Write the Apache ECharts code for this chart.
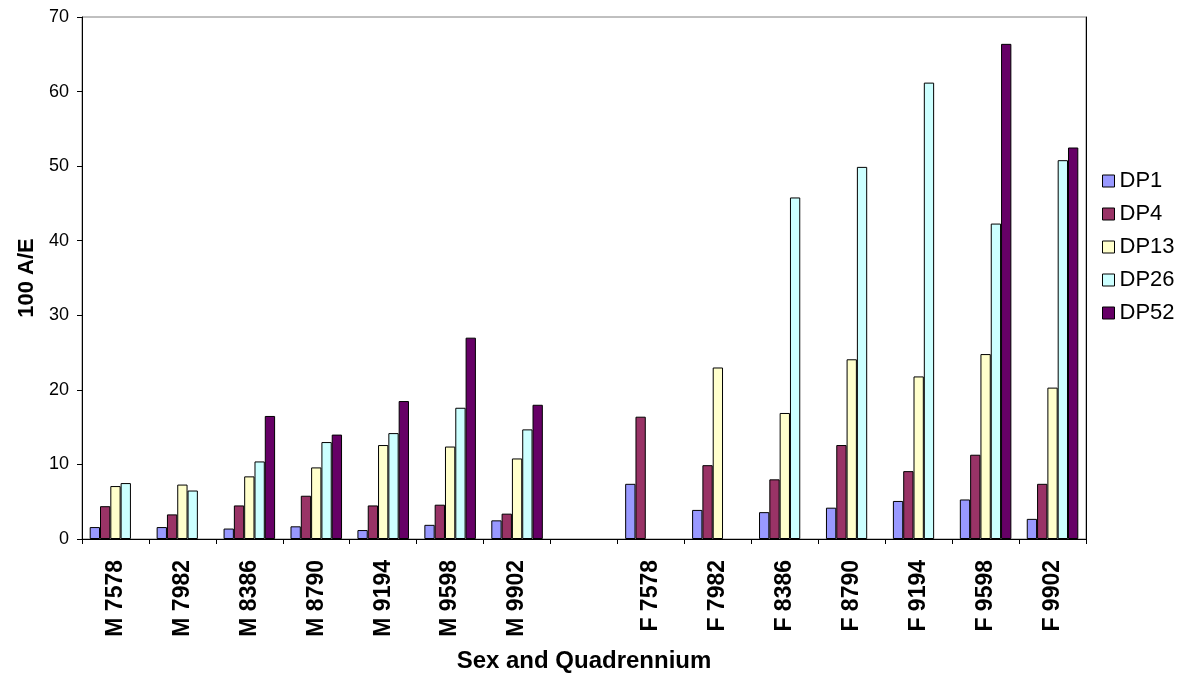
<!DOCTYPE html>
<html>
<head>
<meta charset="utf-8">
<title>100 A/E by Sex and Quadrennium</title>
<script src="https://cdn.jsdelivr.net/npm/echarts@6/dist/echarts.min.js"></script>
<style>
  html, body { margin: 0; padding: 0; background: #ffffff; }
  #chart { width: 1185px; height: 679px; }
</style>
</head>
<body>
<div id="chart"></div>
<script>
// Quadrennium groups: males, an empty spacer slot, then females
const categories = ['M 7578', 'M 7982', 'M 8386', 'M 8790', 'M 9194', 'M 9598', 'M 9902', '',
                    'F 7578', 'F 7982', 'F 8386', 'F 8790', 'F 9194', 'F 9598', 'F 9902'];

const dp1  = [1.6, 1.6, 1.4, 1.7, 1.2, 1.9, 2.5, null, 7.4, 3.9, 3.6, 4.2, 5.1, 5.3, 2.7];
const dp4  = [4.4, 3.3, 4.5, 5.8, 4.5, 4.6, 3.4, null, 16.4, 9.9, 8.0, 12.6, 9.1, 11.3, 7.4];
const dp13 = [7.1, 7.3, 8.4, 9.6, 12.6, 12.4, 10.8, null, null, 23.0, 16.9, 24.1, 21.8, 24.8, 20.3];
const dp26 = [7.5, 6.5, 10.4, 13.0, 14.2, 17.6, 14.7, null, null, null, 45.8, 49.9, 61.2, 42.3, 50.8];
const dp52 = [null, null, 16.5, 14.0, 18.5, 27.0, 18.0, null, null, null, null, null, null, 66.4, 52.5];

const seriesNames = ['DP1', 'DP4', 'DP13', 'DP26', 'DP52'];
const seriesData = [dp1, dp4, dp13, dp26, dp52];
const seriesColors = ['#9999FF', '#993366', '#FFFFCC', '#CCFFFF', '#660066'];

const yMin = 0, yMax = 70, yStep = 10;

const FONT = '"Liberation Sans", Arial, sans-serif';

const chart = echarts.init(document.getElementById('chart'), null, { renderer: 'canvas' });

chart.setOption({
  animation: false,
  backgroundColor: '#ffffff',
  textStyle: { fontFamily: FONT, color: '#000' },
  grid: {
    left: 82, right: 99, top: 17, bottom: 140,
    show: true, borderColor: '#808080', borderWidth: 1, backgroundColor: '#ffffff'
  },
  legend: {
    orient: 'vertical',
    left: 1097, top: 165,
    itemWidth: 12, itemHeight: 12, itemGap: 11,
    icon: 'rect',
    textStyle: { fontFamily: FONT, fontSize: 22, color: '#000', padding: [0, 0, 0, 0] },
    itemStyle: { borderColor: '#000', borderWidth: 1 },
    data: seriesNames
  },
  xAxis: {
    type: 'category',
    data: categories,
    boundaryGap: true,
    axisLine: { lineStyle: { color: '#000', width: 1 } },
    axisTick: { show: true, length: 5, alignWithLabel: false, interval: 0, lineStyle: { color: '#000' } },
    axisLabel: {
      interval: 0, rotate: 90, margin: 21,
      fontFamily: FONT, fontSize: 23, fontWeight: 'bold', color: '#000'
    },
    name: 'Sex and Quadrennium',
    nameLocation: 'middle',
    nameGap: 110,
    nameTextStyle: { fontFamily: FONT, fontSize: 24, fontWeight: 'bold', color: '#000' }
  },
  yAxis: [
    {
      type: 'value',
      min: yMin, max: yMax, interval: yStep,
      axisLine: { show: true, lineStyle: { color: '#000', width: 1 } },
      axisTick: { show: true, inside: false, length: 5, lineStyle: { color: '#000' } },
      splitLine: { show: false },
      axisLabel: { margin: 13, fontFamily: FONT, fontSize: 18, color: '#000' },
      name: '100 A/E',
      nameLocation: 'middle',
      nameGap: 41,
      nameTextStyle: { fontFamily: FONT, fontSize: 22, fontWeight: 'bold', color: '#000' }
    },
    {
      // right-hand frame edge of the plot area
      type: 'value',
      position: 'right',
      min: yMin, max: yMax, interval: yStep,
      axisLine: { show: true, lineStyle: { color: '#000', width: 1 } },
      axisTick: { show: false },
      axisLabel: { show: false },
      splitLine: { show: false }
    }
  ],
  series: seriesNames.map((name, i) => ({
    name: name,
    type: 'bar',
    yAxisIndex: 0,
    data: seriesData[i],
    barGap: '0%',
    barCategoryGap: '23%',
    itemStyle: { color: seriesColors[i], borderColor: '#000', borderWidth: 1 }
  }))
});
</script>
</body>
</html>
